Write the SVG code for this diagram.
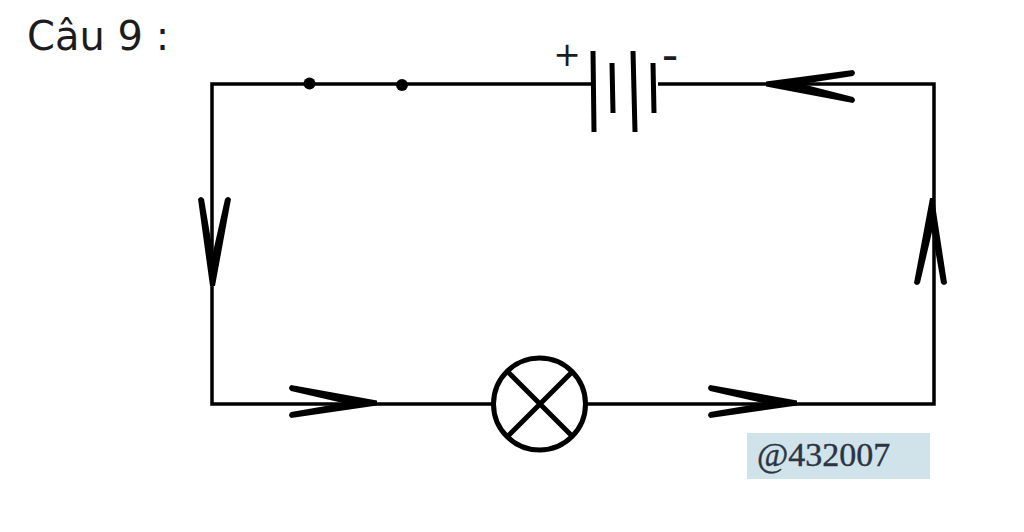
<svg xmlns="http://www.w3.org/2000/svg" width="1024" height="532" viewBox="0 0 1024 532">
<style>
.w{fill:none;stroke:#000;stroke-width:3.500}
.c{fill:#000;stroke:none}
.b{fill:none;stroke:#000;stroke-width:5}
.t{font-family:"DejaVu Sans","Noto Sans",sans-serif;fill:#1c1c1c}
</style>
<rect width="1024" height="532" fill="#fff"/>
<text class="t" x="27" y="50" font-size="40">Câu 9 :</text>
<g id="connectors">
<path class="w" d="M591 84H212V404H492M587 404H934V84H658"/>
<path class="c" d="M766 81.500L853 70Q857 73 853 76L802 84L853 97Q857 100 853 103L766 86.500Z"/>
<path class="c" d="M210 286L198 199Q201 195 204 199L213 252L225 199Q228 195 231 199L215 286Z"/>
<path class="c" d="M377 400.500L291 385Q287 388 291 391L343 403L291 412Q287 415 291 418L377 405.500Z"/>
<path class="c" d="M797 400.500L710 385Q706 388 710 391L763 403L710 412Q706 415 710 418L797 405.500Z"/>
<path class="c" d="M930 198L914 283Q917 287 920 283L932 232L941 283Q944 287 947 283L934 198Z"/>
</g>
<g id="switch">
<circle cx="309.500" cy="83.500" r="6"/>
<circle cx="402" cy="85" r="6"/>
</g>
<g id="battery">
<path class="b" d="M593 51L594 132M612 63L613 113M633 51L635 132M653 63L654 113"/>
<text class="t" x="567" y="66" font-size="33" text-anchor="middle">+</text>
<text class="t" x="670" y="71" font-size="46" text-anchor="middle">-</text>
</g>
<g id="lamp">
<circle class="b" cx="539.500" cy="404" r="46"/>
<path class="b" d="M508 372L572 436M572 372L508 436"/>
</g>
<g id="watermark">
<rect x="747" y="433" width="183" height="46" fill="#d0e2ea"/>
<text x="757" y="466" font-family="'Liberation Serif','DejaVu Serif',serif" font-size="34" fill="#2c3442" stroke="#2c3442" stroke-width=".4">@432007</text>
</g>
</svg>
